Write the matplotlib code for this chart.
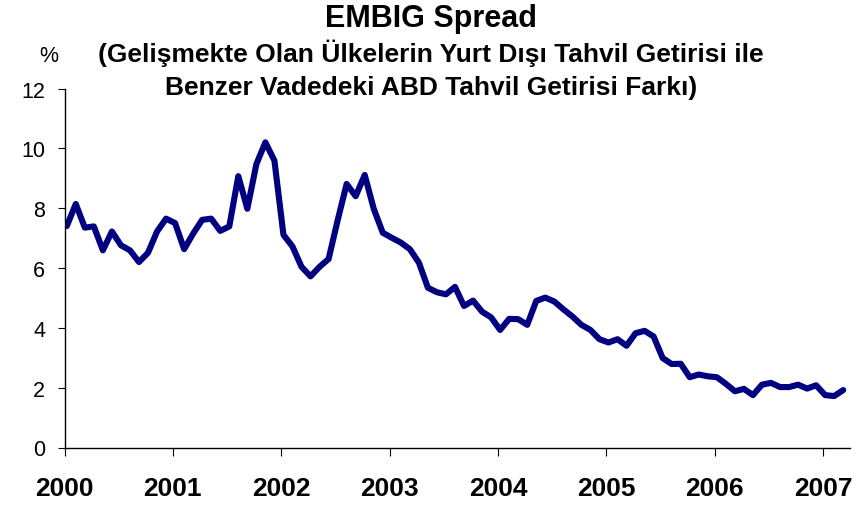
'''
EMBIG spread chart (monthly, 2000 - early 2007)
'''
import numpy as np
import matplotlib
matplotlib.use("Agg")
import matplotlib.pyplot as plt

plt.rcParams['font.family'] = ['Liberation Sans', 'DejaVu Sans']

# monthly EMBIG spread, %, starting January 2000
spread = [
    7.40, 8.14, 7.35, 7.39, 6.59, 7.22, 6.76, 6.59, 6.20, 6.51, 7.22, 7.65,  # 2000
    7.50, 6.63, 7.15, 7.61, 7.65, 7.24, 7.39, 9.07, 7.98, 9.47, 10.20, 9.59,  # 2001
    7.11, 6.72, 6.04, 5.72, 6.04, 6.30, 7.59, 8.81, 8.40, 9.11, 7.98, 7.18,  # 2002
    7.01, 6.85, 6.63, 6.18, 5.34, 5.19, 5.12, 5.37, 4.73, 4.91, 4.54, 4.35,  # 2003
    3.93, 4.30, 4.29, 4.10, 4.90, 5.01, 4.88, 4.62, 4.38, 4.10, 3.93, 3.62,  # 2004
    3.51, 3.62, 3.40, 3.82, 3.90, 3.71, 2.99, 2.79, 2.80, 2.35, 2.44, 2.38,  # 2005
    2.35, 2.13, 1.88, 1.96, 1.75, 2.10, 2.16, 2.02, 2.02, 2.10, 1.97, 2.08,  # 2006
    1.75, 1.72, 1.92,                                                        # 2007
]
start_year = 2000
year_ticks = [2000, 2001, 2002, 2003, 2004, 2005, 2006, 2007]
y_ticks = [0, 2, 4, 6, 8, 10, 12]

title = "EMBIG Spread"
subtitle_1 = "(Gelişmekte Olan Ülkelerin Yurt Dışı Tahvil Getirisi ile"
subtitle_2 = "Benzer Vadedeki ABD Tahvil Getirisi Farkı)"

W, H = 868, 506
fig = plt.figure(figsize=(W / 100, H / 100), dpi=100, facecolor='white')
ax = fig.add_axes([64.5 / W, 1 - 448.5 / H, (850 - 64.5) / W, (448.5 - 89.5) / H])

months = start_year + (np.arange(len(spread)) + 0.25) / 12
ax.plot(months, spread, color='#000080', linewidth=4.4,
        solid_joinstyle='round', solid_capstyle='round')

ax.set_xlim(2000, 2007.25)
ax.set_ylim(0, 12)
ax.set_xticks(year_ticks)
ax.set_xticklabels([str(y) for y in year_ticks], fontsize=19, fontweight='bold')
ax.set_yticks(y_ticks)
ax.set_yticklabels([str(v) for v in y_ticks], fontsize=15.5)
ax.tick_params(axis='x', direction='out', length=5.5, width=0.8, pad=15, colors='black')
ax.tick_params(axis='y', direction='out', length=5, width=0.8, pad=9, colors='black')

for side in ('top', 'right'):
    ax.spines[side].set_visible(False)
for side in ('left', 'bottom'):
    ax.spines[side].set_linewidth(1.0)
    ax.spines[side].set_color('black')

cx = 431 / W
fig.text(cx, 1 - 27 / H, title, ha='center', va='baseline', fontsize=22, fontweight='bold')
fig.text(cx, 1 - 62 / H, subtitle_1, ha='center', va='baseline', fontsize=19, fontweight='bold')
fig.text(cx, 1 - 95 / H, subtitle_2, ha='center', va='baseline', fontsize=19, fontweight='bold')
fig.text(49 / W, 1 - 62 / H, "%", ha='center', va='baseline', fontsize=15.5)

fig.savefig("out.png", dpi=100, facecolor='white')
